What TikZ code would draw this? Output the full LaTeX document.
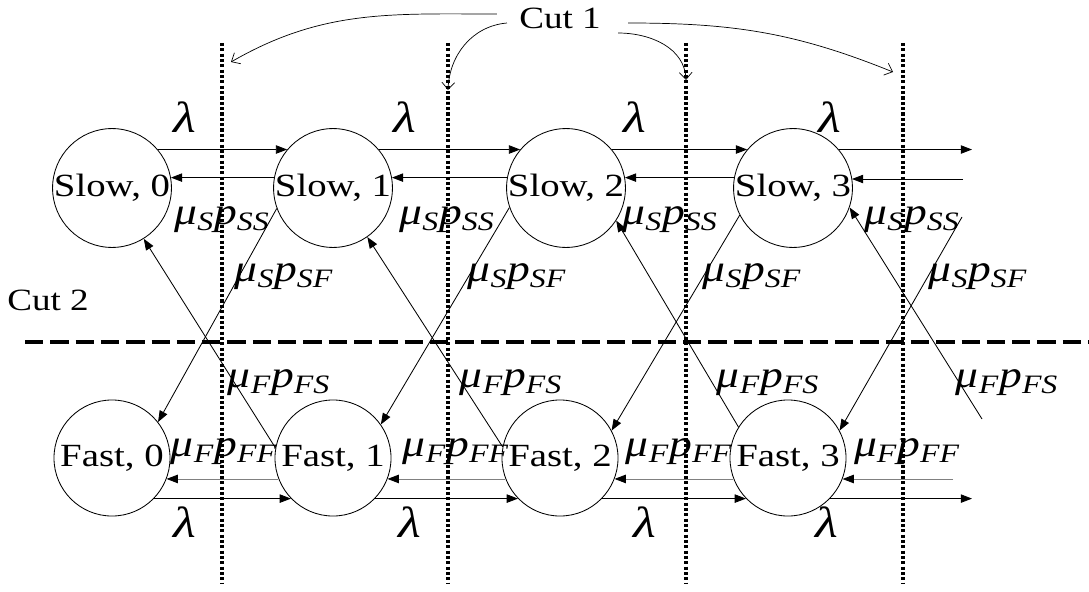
\documentclass[tikz,border=0pt]{standalone}
\usepackage{fontspec}
\setmainfont{Liberation Serif}[FakeStretch=1.2]
\usetikzlibrary{arrows.meta,calc}
\newcommand{\rate}[2]{\textit{μ}\textsubscript{\textit{#1}}\textit{p}\textsubscript{\textit{#2}}}
\tikzset{
    queue state/.style={
        circle,
        draw,
        line width=0.6pt,
        inner sep=0pt,
        minimum size=2.9cm,
        font=\fontsize{23}{26}\selectfont
    },
    rate label/.style={
        inner sep=0pt,
        font=\fontsize{27}{30}\selectfont
    },
    arrival label/.style={
        inner sep=0pt,
        font=\fontsize{31}{34}\selectfont
    },
    cut label/.style={
        inner sep=0pt,
        font=\fontsize{22}{25}\selectfont
    },
    trans/.style={
        line width=0.6pt,
        -{Triangle[length=8pt,width=6pt]}
    },
    back trans/.style={
        line width=0.6pt,
        gray,
        -{Triangle[length=8pt,width=6pt,black]}
    },
    cut dots/.style={
        line width=2.6pt,
        dash pattern=on 2.2pt off 1.6pt
    },
    cut dashes/.style={
        line width=2.6pt,
        dash pattern=on 13pt off 5pt
    },
    cut pointer/.style={
        line width=0.5pt,
        -{Straight Barb[length=5pt,width=9pt]}
    }
}

\begin{document}
\begin{tikzpicture}[x=0.025cm, y=-0.025cm]
                \useasboundingbox (0,0) rectangle (1089,591);
                \node[queue state] (S0) at (112,188) {Slow, 0};
                \node[queue state] (S1) at (333,188) {Slow, 1};
                \node[queue state] (S2) at (566,188) {Slow, 2};
                \node[queue state] (S3) at (793,188) {Slow, 3};
                \node[queue state] (F0) at (112,458) {Fast, 0};
                \node[queue state] (F1) at (333,458) {Fast, 1};
                \node[queue state] (F2) at (560,458) {Fast, 2};
                \node[queue state] (F3) at (788,458) {Fast, 3};
                \coordinate (RSout) at (972,150);
                \coordinate (RSin) at (963,179);
                \coordinate (RFin) at (953,479);
                \coordinate (RFout) at (972,498);
                \coordinate (RSF) at (962,217);
                \coordinate (RFS) at (982,419);
                \coordinate (D1a) at (222,43);
                \coordinate (D1b) at (222,583);
                \coordinate (D2a) at (448,43);
                \coordinate (D2b) at (448,583);
                \coordinate (D3a) at (686,43);
                \coordinate (D3b) at (686,583);
                \coordinate (D4a) at (903,43);
                \coordinate (D4b) at (903,583);
                \coordinate (H1) at (25,342);
                \coordinate (H2) at (1089,342);
                \coordinate (K1) at (231,62);
                \coordinate (K2) at (448,90);
                \coordinate (K3) at (686,80);
                \coordinate (K4) at (893,72);
                \node[cut label] (cut1) at (560,18) {Cut 1};
                \node[cut label] (cut2) at (48,300) {Cut 2};
                % cuts
                \draw[cut dots] (D1a) -- (D1b);
                \draw[cut dots] (D2a) -- (D2b);
                \draw[cut dots] (D3a) -- (D3b);
                \draw[cut dots] (D4a) -- (D4b);
                \draw[cut dashes] (H1) -- (H2);
                \draw[cut pointer] ($(cut1.west)+(-22,-4)$) to[out=180,in=30] (K1);
                \draw[cut pointer] ($(cut1.west)+(-12,5)$) to[out=185,in=88] (K2);
                \draw[cut pointer] ($(cut1.east)+(17,15)$) to[out=0,in=92] (K3);
                \draw[cut pointer] ($(cut1.east)+(27,5)$) to[out=0,in=158] (K4);
                % slow row
                \draw[trans] (S0.40) -- (S1.140);
                \draw[trans] (S1.40) -- (S2.140);
                \draw[trans] (S2.40) -- (S3.140);
                \draw[trans] (S3.40) -- (S3.40 -| RSout);
                \draw[trans] (S1.170) -- (S0.10);
                \draw[trans] (S2.170) -- (S1.10);
                \draw[trans] (S3.170) -- (S2.10);
                \draw[trans] (RSin) -- (RSin -| S3.10);
                % fast row
                \draw[trans] (F0.-44) -- (F1.224);
                \draw[trans] (F1.-44) -- (F2.224);
                \draw[trans] (F2.-44) -- (F3.224);
                \draw[trans] (F3.-44) -- (F3.-44 -| RFout);
                \draw[back trans] (F1.201) -- (F0.-21);
                \draw[back trans] (F2.201) -- (F1.-21);
                \draw[back trans] (F3.201) -- (F2.-21);
                \draw[back trans] (RFin) -- (RFin -| F3.-21);
                % switches
                \draw[trans] (S1.200) -- (F0.38);
                \draw[trans] (F1.170) -- (S0.-58);
                \draw[trans] (S2.199) -- (F1.35);
                \draw[trans] (F2.169) -- (S1.-55);
                \draw[trans] (S3.207) -- (F2.28);
                \draw[trans] (F3.148) -- (S2.-33);
                \draw[trans] (RSF) -- (F3.28);
                \draw[trans] (RFS) -- (S3.-19);
                % rates
                \node[arrival label] (lS0) at (185,117) {\textit{λ}};
                \node[arrival label] (lS1) at (405,117) {\textit{λ}};
                \node[arrival label] (lS2) at (635,117) {\textit{λ}};
                \node[arrival label] (lS3) at (830,117) {\textit{λ}};
                \node[rate label] (ss1) at (222,220) {\rate{S}{SS}};
                \node[rate label] (ss2) at (447,220) {\rate{S}{SS}};
                \node[rate label] (ss3) at (670,220) {\rate{S}{SS}};
                \node[rate label] (ss4) at (912,220) {\rate{S}{SS}};
                \node[rate label] (sf1) at (284,277) {\rate{S}{SF}};
                \node[rate label] (sf2) at (517,277) {\rate{S}{SF}};
                \node[rate label] (sf3) at (752,277) {\rate{S}{SF}};
                \node[rate label] (sf4) at (978,277) {\rate{S}{SF}};
                \node[rate label] (fs1) at (279,383) {\rate{F}{FS}};
                \node[rate label] (fs2) at (511,383) {\rate{F}{FS}};
                \node[rate label] (fs3) at (768,383) {\rate{F}{FS}};
                \node[rate label] (fs4) at (1007,383) {\rate{F}{FS}};
                \node[rate label] (ff1) at (224,452) {\rate{F}{FF}};
                \node[rate label] (ff2) at (456,452) {\rate{F}{FF}};
                \node[rate label] (ff3) at (679,452) {\rate{F}{FF}};
                \node[rate label] (ff4) at (907,452) {\rate{F}{FF}};
                \node[arrival label] (lF0) at (185,522) {\textit{λ}};
                \node[arrival label] (lF1) at (410,522) {\textit{λ}};
                \node[arrival label] (lF2) at (645,522) {\textit{λ}};
                \node[arrival label] (lF3) at (827,522) {\textit{λ}};
            \end{tikzpicture}
\end{document}
